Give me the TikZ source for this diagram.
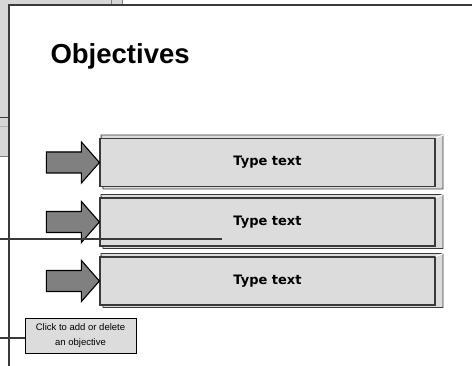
\documentclass[tikz,border=0pt]{standalone}
\usepackage{fontspec}
\setmainfont{Liberation Sans}
\newfontfamily\boxfont{DejaVu Sans}
\usetikzlibrary{positioning}

\definecolor{panelgray}{HTML}{D6D6D6}
\definecolor{boxgray}{HTML}{DCDCDC}
\definecolor{arrowgray}{HTML}{808080}
\definecolor{edgegray}{HTML}{3A3A3A}

\tikzset{
  objbox/.style={draw=edgegray, line width=1.2pt, fill=boxgray,
    minimum width=335pt, minimum height=48pt, inner sep=0pt,
    font=\boxfont\bfseries\fontsize{13}{15}\selectfont},
  notebox/.style={draw=black, fill=boxgray, line width=0.8pt,
    minimum width=111pt, minimum height=35pt, inner sep=0pt, align=center,
    font=\fontsize{9.5}{15}\selectfont},
  leader/.style={draw=edgegray, line width=1.2pt},
}

\begin{document}
\begin{tikzpicture}[x=1pt, y=-1pt]
  \useasboundingbox (0,0) rectangle (472,366);

  % Window behind the slide
  \fill[panelgray] (0,0) rectangle (122,5);
  \fill[panelgray] (0,0) rectangle (9,157);
  \draw[gray] (111,0) -- (111,5);
  \draw[gray] (122,0) -- (122,5);
  \draw[edgegray] (0,117) -- (9,117);
  \draw[gray!60] (0,126) -- (9,126);
  \draw[gray] (0,156) -- (9,156);

  % Slide edges
  \draw[edgegray, line width=1.5pt] (9,366) -- (9,5) -- (472,5);

  % Title
  \node[anchor=base west, font=\bfseries\fontsize{27.5}{30}\selectfont]
    (title) at (47,64) {Objectives};

  % Objective rows
  \foreach \i/\yc in {1/162.5, 2/222, 3/281} {
    \filldraw[fill=boxgray, draw=edgegray, line width=0.9pt]
      (101,\yc-27.5) -- (443,\yc-27.5) -- (443,\yc+26.5)
      -- (103,\yc+26.5) -- cycle;
    \node[objbox] (obj\i) at (267.5,\yc) {Type text};
    \draw[white, line width=1pt] (obj\i.north east) -- ++(8,-3);
    % block arrow
    \fill[black, shift={(-1.2,1.5)}] (obj\i.west) -- ++(-18,-20.5) -- ++(0,10)
      -- ++(-35,0) -- ++(0,21) -- ++(35,0) -- ++(0,10) -- cycle;
    \filldraw[fill=arrowgray, draw=black, line width=1.1pt]
      (obj\i.west) -- ++(-18,-20.5) -- ++(0,10)
      -- ++(-35,0) -- ++(0,21) -- ++(35,0) -- ++(0,10) -- cycle;
  }

  % Leader lines and callout
  \coordinate (lead1) at (0,239);
  \coordinate (lead1end) at (222,239);
  \draw[leader] (lead1) -- (lead1end);

  \node[notebox] (note) at (80.5,335.5) {Click to add or delete\\an objective};
  \coordinate (lead2) at (0,338);
  \draw[leader] (lead2) -- (lead2 -| note.west);

\end{tikzpicture}
\end{document}
